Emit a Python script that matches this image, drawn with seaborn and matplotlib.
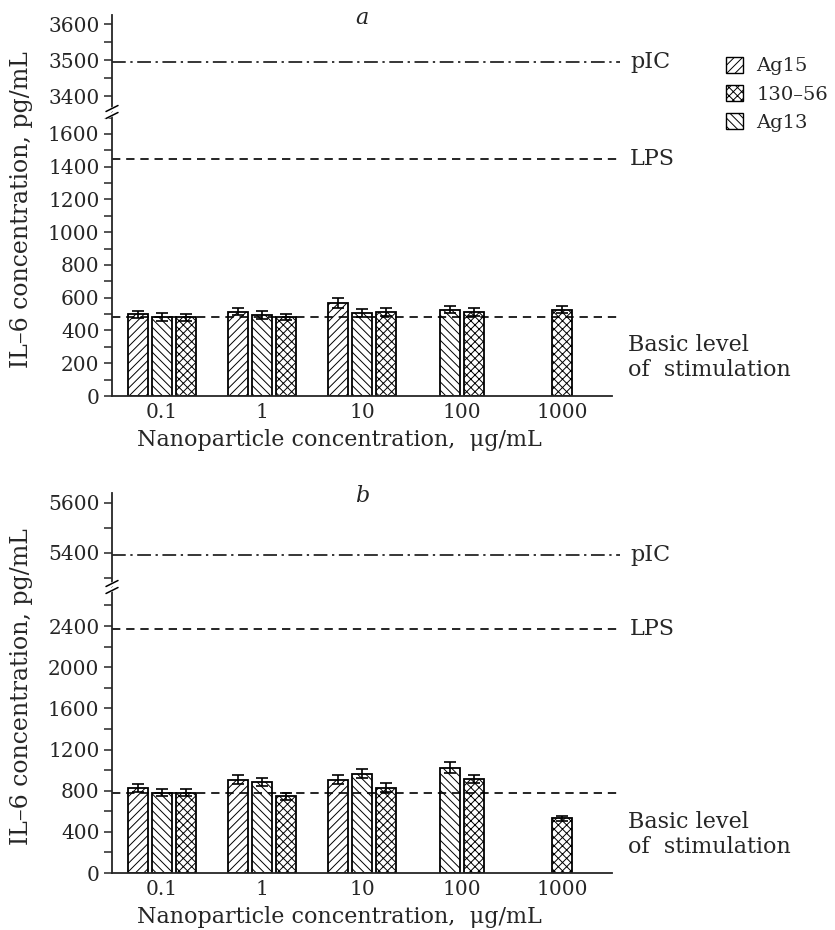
import numpy as np
import pandas as pd
import seaborn as sns
import matplotlib.pyplot as plt
from matplotlib.patches import Patch
from matplotlib.lines import Line2D
from matplotlib.ticker import MultipleLocator

# ---------------------------------------------------------------- data
conc = ['0.1', '1', '10', '100', '1000']
materials = ['Ag15', 'Ag13', '130–56']          # order of bars in a group
legend_order = ['Ag15', '130–56', 'Ag13']
hatches = {'Ag15': '////', 'Ag13': '\\\\\\\\', '130–56': 'xxxx'}

# panel a (None = not measured)
a_ag15 = [500, 515, 570, None, None]
a_ag13 = [482, 492, 505, 527, None]
a_130 = [480, 482, 512, 512, 527]
a_ag15_err = [22, 22, 30, None, None]
a_ag13_err = [22, 24, 25, 22, None]
a_130_err = [22, 18, 25, 24, 22]
a_basic, a_lps, a_pic = 485, 1445, 3495

# panel b
b_ag15 = [825, 905, 905, None, None]
b_ag13 = [780, 885, 965, 1025, None]
b_130 = [780, 745, 830, 912, 530]
b_ag15_err = [40, 45, 45, None, None]
b_ag13_err = [35, 40, 45, 50, None]
b_130_err = [35, 35, 40, 40, 25]
b_basic, b_lps, b_pic = 775, 2370, 5390

W, H = 835, 930


def make_df(v1, v2, v3, e1, e2, e3):
    rows = []
    for m, vals, errs in zip(materials, [v1, v2, v3], [e1, e2, e3]):
        for c, v, e in zip(conc, vals, errs):
            if v is not None:
                rows.append({'conc': c, 'material': m, 'value': v, 'err': e})
    return pd.DataFrame(rows)


def fx(px):
    return px / W


def fy(py):
    return 1 - py / H


sns.set_style('ticks')
plt.rcParams['font.family'] = ['DejaVu Serif']
plt.rcParams['hatch.linewidth'] = 0.7
FS_TICK = 14.5
FS_LAB = 16

fig = plt.figure(figsize=(W / 100, H / 100), dpi=100)


def panel(df, top_px, mid_px, bot_px, top_lim, bot_lim, top_loc, bot_loc,
          basic, lps, pic, letter):
    x0, x1 = 112, 612
    ax_t = fig.add_axes([fx(x0), fy(mid_px), fx(x1) - fx(x0), fy(top_px) - fy(mid_px)])
    ax_b = fig.add_axes([fx(x0), fy(bot_px), fx(x1) - fx(x0), fy(mid_px) - fy(bot_px)])

    sns.barplot(data=df, x='conc', y='value', hue='material', order=conc,
                hue_order=materials, palette=['white'] * 3, saturation=1,
                edgecolor='black', linewidth=1.3, width=0.72, gap=0.15,
                errorbar=None, legend=False, ax=ax_b)

    # hatch + collect bars per category
    groups = {}
    for m, cont in zip(materials, ax_b.containers):
        for bar in cont:
            bar.set_hatch(hatches[m])
            i = int(round(bar.get_x() + bar.get_width() / 2))
            groups.setdefault(i, []).append((m, bar))
    # centre groups with missing bars
    for i, items in groups.items():
        centers = [b.get_x() + b.get_width() / 2 for _, b in items]
        shift = i - np.mean(centers)
        for _, b in items:
            b.set_x(b.get_x() + shift)
    # error bars
    for i, items in groups.items():
        for m, b in items:
            row = df[(df.conc == conc[i]) & (df.material == m)].iloc[0]
            ax_b.errorbar(b.get_x() + b.get_width() / 2, row.value, yerr=row.err,
                          fmt='none', ecolor='black', elinewidth=1.2,
                          capsize=4, capthick=1.2, zorder=5)

    ax_b.set_xlim(-0.5, 4.5)
    ax_t.set_xlim(-0.5, 4.5)
    ax_b.set_ylim(0, bot_lim)
    ax_t.set_ylim(*top_lim)
    ax_b.yaxis.set_major_locator(MultipleLocator(bot_loc))
    ax_b.yaxis.set_minor_locator(MultipleLocator(bot_loc / 2))
    ax_t.yaxis.set_major_locator(MultipleLocator(top_loc))
    ax_t.yaxis.set_minor_locator(MultipleLocator(top_loc / 2))

    for ax in (ax_t, ax_b):
        ax.spines[['top', 'right']].set_visible(False)
        ax.spines['left'].set_linewidth(1.3)
        ax.tick_params(axis='y', which='both', length=6, width=1.1,
                       labelsize=FS_TICK, pad=3)
        ax.set_ylabel('')
        ax.set_xlabel('')
    ax_t.spines['bottom'].set_visible(False)
    ax_t.tick_params(axis='x', length=0, labelbottom=False)
    ax_b.spines['bottom'].set_linewidth(1.3)
    ax_b.tick_params(axis='x', length=0, labelsize=FS_TICK, pad=5)
    ax_b.set_xlabel('Nanoparticle concentration,  μg/mL', fontsize=FS_LAB, labelpad=2)
    ax_b.xaxis.set_label_coords(0.455, -0.115)

    # reference lines
    dash = (0, (5, 3.5))
    ax_b.axhline(basic, xmax=1.016, ls=dash, lw=1.2, color='black', clip_on=False, zorder=1)
    ax_b.axhline(lps, xmax=1.016, ls=dash, lw=1.2, color='black', clip_on=False)
    ax_t.axhline(pic, xmax=1.016, ls=(0, (9, 3, 1.5, 3)), lw=1.1, color='black', clip_on=False)

    # right-hand labels
    def ypx(ax, v):
        return ax.transData.transform((0, v))[1] / fig.dpi / fig.get_figheight()

    fig.text(fx(630), ypx(ax_t, pic), 'pIC', fontsize=FS_LAB, va='center')
    fig.text(fx(630), ypx(ax_b, lps), 'LPS', fontsize=FS_LAB, va='center')
    fig.text(fx(628), ypx(ax_b, basic) - 41 / H, 'Basic level\nof  stimulation',
             fontsize=FS_LAB, va='center', linespacing=1.2)

    # axis break
    for dy in (-2.5, 2.5):
        fig.add_artist(Line2D([fx(x0 - 6), fx(x0 + 6)],
                              [fy(mid_px + dy + 3), fy(mid_px + dy - 3)],
                              color='white', lw=3))
    for dy in (-3.5, 3.5):
        fig.add_artist(Line2D([fx(x0 - 6), fx(x0 + 6)],
                              [fy(mid_px + dy + 3), fy(mid_px + dy - 3)],
                              color='black', lw=1.1))

    fig.text(fx(22), (fy(top_px) + fy(bot_px)) / 2 - 4 / H, 'IL–6 concentration, pg/mL',
             rotation=90, fontsize=17, ha='center', va='center')
    fig.text(fx(362), fy(top_px + 3), letter, fontsize=FS_LAB, style='italic',
             ha='center', va='center')
    return ax_t, ax_b


df_a = make_df(a_ag15, a_ag13, a_130, a_ag15_err, a_ag13_err, a_130_err)
df_b = make_df(b_ag15, b_ag13, b_130, b_ag15_err, b_ag13_err, b_130_err)

panel(df_a, 15, 112, 396, (3356, 3625), 1734, 100, 200, a_basic, a_lps, a_pic, 'a')
panel(df_b, 493, 587, 873, (5263, 5639), 2779, 200, 400, b_basic, b_lps, b_pic, 'b')

handles = [Patch(facecolor='white', edgecolor='black', lw=1.0, hatch=hatches[m])
           for m in legend_order]
fig.legend(handles, legend_order, loc='upper left', bbox_to_anchor=(fx(726), fy(57)),
           frameon=False, fontsize=14, handlelength=0.85, handleheight=0.85,
           handletextpad=0.7, labelspacing=0.5, borderaxespad=0, borderpad=0)

fig.savefig('out.png', dpi=100)
